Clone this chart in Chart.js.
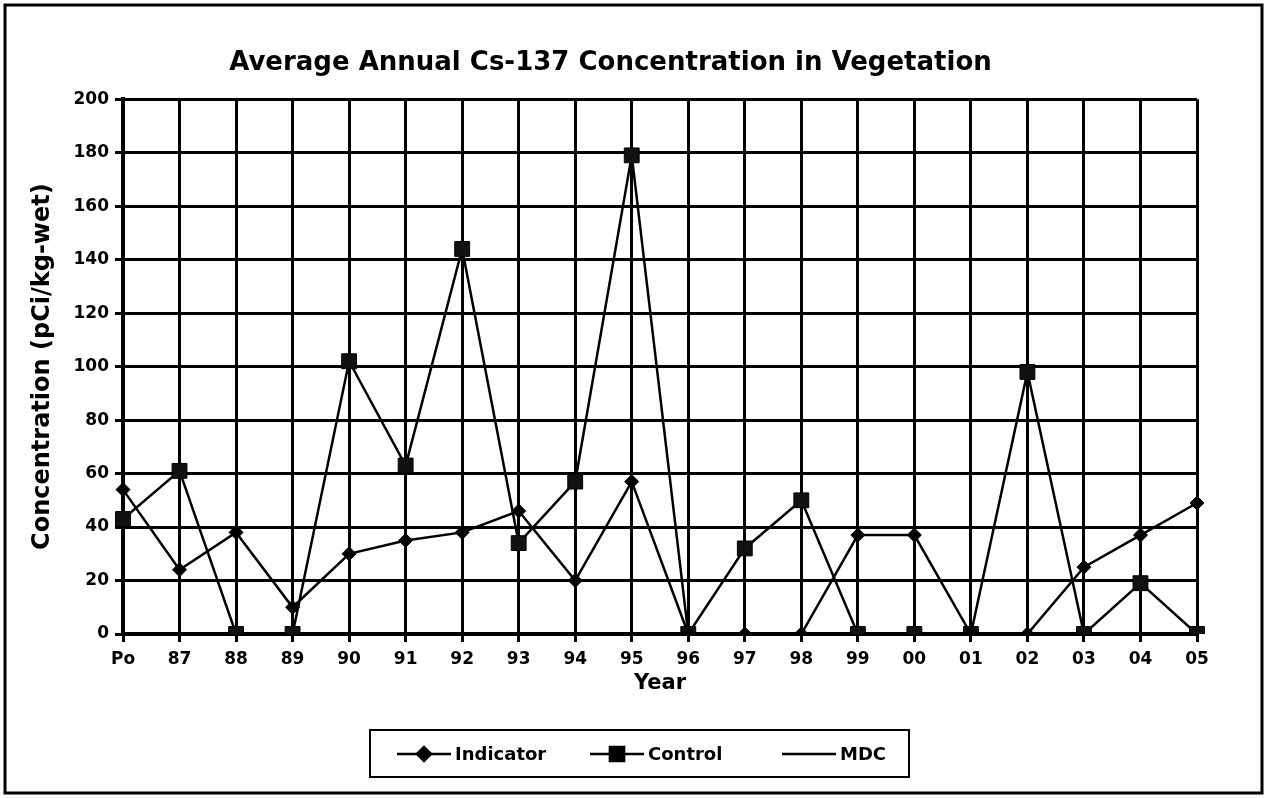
<!DOCTYPE html>
<html>
<head>
<meta charset="utf-8">
<script src="https://cdn.jsdelivr.net/npm/chart.js@4.4.0/dist/chart.umd.min.js"></script>
<style>
  html, body { margin: 0; padding: 0; background: #fff; }
  #wrap { width: 1267px; height: 798px; }
</style>
</head>
<body>
<div id="wrap"><canvas id="chart" width="1267" height="798"></canvas></div>
<script>
const years = ['Po', '87', '88', '89', '90', '91', '92', '93', '94', '95', '96', '97', '98', '99', '00', '01', '02', '03', '04', '05'];
const indicator = [54, 24, 38, 10, 30, 35, 38, 46, 20, 57, 0, 0, 0, 37, 37, 0, 0, 25, 37, 49];
const control = [43, 61, 0, 0, 102, 63, 144, 34, 57, 179, 0, 32, 50, 0, 0, 0, 98, 0, 19, 0];
const mdc = years.map(() => null); // MDC has no plotted values, it only shows in the legend
const yTicks = [0, 20, 40, 60, 80, 100, 120, 140, 160, 180, 200];

const FONT = '"DejaVu Sans", Verdana, sans-serif';

// outer frame + boxed legend like the report figure
const framePlugin = {
    id: 'frame',
    afterDraw(chart) {
        const ctx = chart.ctx;
        ctx.save();
        ctx.strokeStyle = '#000';
        ctx.lineWidth = 3;
        ctx.strokeRect(5, 5, 1257, 788);

        // legend box
        ctx.lineWidth = 2;
        ctx.strokeRect(370, 730, 539, 47);
        const cy = 754;
        const items = [
            { x: 397, label: 'Indicator', style: 'rectRot', r: 7 },
            { x: 590, label: 'Control', style: 'rect', r: 10 },
            { x: 782, label: 'MDC', style: null }
        ];
        ctx.font = 'bold 18px ' + FONT;
        ctx.textBaseline = 'middle';
        ctx.fillStyle = '#000';
        items.forEach(it => {
            ctx.lineWidth = 2.5;
            ctx.beginPath();
            ctx.moveTo(it.x, cy);
            ctx.lineTo(it.x + 54, cy);
            ctx.stroke();
            if (it.style) {
                Chart.helpers.drawPoint(ctx, { pointStyle: it.style, radius: it.r, borderWidth: 1 }, it.x + 27, cy);
                ctx.fill();
            }
            ctx.fillText(it.label, it.x + 58, cy + 1);
        });
        ctx.restore();
    }
};

new Chart(document.getElementById('chart'), {
    type: 'line',
    data: {
        labels: years,
        datasets: [
            {
                label: 'Indicator',
                data: indicator,
                borderColor: '#000',
                backgroundColor: '#000',
                borderWidth: 2.5,
                pointStyle: 'rectRot',
                pointRadius: 7,
                pointBorderWidth: 1,
                tension: 0
            },
            {
                label: 'Control',
                data: control,
                borderColor: '#000',
                backgroundColor: '#111',
                borderWidth: 2.5,
                pointStyle: 'rect',
                pointRadius: 10.5,
                pointBorderWidth: 1,
                tension: 0
            },
            {
                label: 'MDC',
                data: mdc,
                borderColor: '#000',
                borderWidth: 2.5,
                pointRadius: 0
            }
        ]
    },
    options: {
        responsive: false,
        animation: false,
        layout: { padding: { left: 24, right: 70, top: 0, bottom: 102 } },
        plugins: {
            legend: { display: false },
            tooltip: { enabled: false },
            title: {
                display: true,
                text: 'Average Annual Cs-137 Concentration in Vegetation',
                color: '#000',
                font: { family: FONT, size: 26, weight: 'bold' },
                padding: { top: 48, bottom: 20 }
            }
        },
        scales: {
            x: {
                offset: false,
                grid: { color: '#000', lineWidth: 3, tickLength: 8 },
                border: { color: '#000', width: 4 },
                ticks: {
                    color: '#000',
                    font: { family: FONT, size: 17, weight: 'bold' },
                    maxRotation: 0,
                    autoSkip: false,
                    padding: 7
                },
                title: {
                    display: true,
                    text: 'Year',
                    color: '#000',
                    font: { family: FONT, size: 21, weight: 'bold' },
                    padding: { top: 0, bottom: 0 }
                },
                afterFit(scale) { scale.height = 62; }
            },
            y: {
                min: 0,
                max: 200,
                afterBuildTicks(scale) { scale.ticks = yTicks.map(v => ({ value: v })); },
                grid: { color: '#000', lineWidth: 3, tickLength: 8 },
                border: { color: '#000', width: 4 },
                ticks: {
                    color: '#000',
                    font: { family: FONT, size: 17, weight: 'bold' },
                    padding: 6
                },
                title: {
                    display: true,
                    text: 'Concentration (pCi/kg-wet)',
                    color: '#000',
                    font: { family: FONT, size: 24, weight: 'bold' },
                    padding: 4
                },
                afterFit(scale) { scale.width = 99; }
            }
        }
    },
    plugins: [framePlugin]
});
</script>
</body>
</html>
